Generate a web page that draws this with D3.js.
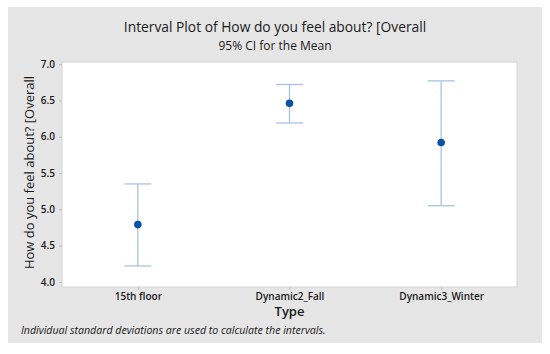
<!DOCTYPE html>
<html>
<head>
<meta charset="utf-8">
<script src="https://cdn.jsdelivr.net/npm/d3@7"></script>
<style>
  body { margin: 0; background: #fff; }
  text { font-family: "Open Sans", "Noto Sans", sans-serif; fill: #1a1a1a; }
</style>
</head>
<body>
<script>
// data
const types = ["15th floor", "Dynamic2_Fall", "Dynamic3_Winter"];
const means = [4.79, 6.46, 5.92];
const lower = [4.22, 6.19, 5.05];
const upper = [5.35, 6.72, 6.77];
const yTicks = [4.0, 4.5, 5.0, 5.5, 6.0, 6.5, 7.0];

const W = 550, H = 354;
const margin = { top: 62, right: 33, bottom: 67, left: 62 };
const width = W - margin.left - margin.right,
      height = H - margin.top - margin.bottom;

const svg = d3.select("body").append("svg")
  .attr("width", W)
  .attr("height", H);

// outer gray panel
svg.append("rect")
  .attr("x", 8).attr("y", 7)
  .attr("width", 534).attr("height", 336)
  .attr("fill", "#e6e6e6");

svg.append("text")
  .attr("x", 275).attr("y", 32)
  .attr("text-anchor", "middle")
  .style("font-size", "13.8px")
  .text("Interval Plot of How do you feel about? [Overall");

svg.append("text")
  .attr("x", 275).attr("y", 50)
  .attr("text-anchor", "middle")
  .style("font-size", "12px")
  .text("95% CI for the Mean");

const g = svg.append("g")
  .attr("transform", `translate(${margin.left},${margin.top})`);

g.append("rect")
  .attr("width", width).attr("height", height)
  .attr("fill", "#fff")
  .attr("stroke", "#d4d4d4");

const x = d3.scalePoint().domain(types).range([0, width]).padding(0.5);
const y = d3.scaleLinear().domain([3.93, 7.03]).range([height, 0]);

const yAxis = g.append("g")
  .call(d3.axisLeft(y).tickValues(yTicks).tickFormat(d3.format(".1f")).tickSize(3).tickPadding(4));
yAxis.select(".domain").remove();
yAxis.selectAll(".tick line").attr("stroke", "#bbb");
yAxis.selectAll("text").style("font-size", "10px").style("font-weight", 600).attr("fill", "#222");

const xAxis = g.append("g")
  .attr("transform", `translate(0,${height})`)
  .call(d3.axisBottom(x).tickSize(3).tickPadding(3));
xAxis.select(".domain").remove();
xAxis.selectAll(".tick line").attr("stroke", "#bbb");
xAxis.selectAll("text").style("font-size", "10px").style("font-weight", 600).attr("fill", "#222");

svg.append("text")
  .attr("x", margin.left + width / 2).attr("y", 316)
  .attr("text-anchor", "middle")
  .style("font-size", "13px").style("font-weight", 600)
  .text("Type");

svg.append("text")
  .attr("transform", `translate(34,${margin.top + height / 2 - 2}) rotate(-90)`)
  .attr("text-anchor", "middle")
  .style("font-size", "13px")
  .text("How do you feel about? [Overall");

svg.append("text")
  .attr("x", 21).attr("y", 334)
  .style("font-size", "10.6px").style("font-style", "italic")
  .text("Individual standard deviations are used to calculate the intervals.");

// intervals
const ivColor = "#a7c3e3";
const cap = 13.5;
const iv = g.selectAll(".iv").data(types).enter().append("g").attr("class", "iv");
iv.append("line")
  .attr("x1", d => x(d)).attr("x2", d => x(d))
  .attr("y1", (d, i) => y(lower[i])).attr("y2", (d, i) => y(upper[i]))
  .attr("stroke", ivColor).attr("stroke-width", 1.3);
iv.append("line")
  .attr("x1", d => x(d) - cap).attr("x2", d => x(d) + cap)
  .attr("y1", (d, i) => y(upper[i])).attr("y2", (d, i) => y(upper[i]))
  .attr("stroke", ivColor).attr("stroke-width", 1.3);
iv.append("line")
  .attr("x1", d => x(d) - cap).attr("x2", d => x(d) + cap)
  .attr("y1", (d, i) => y(lower[i])).attr("y2", (d, i) => y(lower[i]))
  .attr("stroke", ivColor).attr("stroke-width", 1.3);
iv.append("circle")
  .attr("cx", d => x(d))
  .attr("cy", (d, i) => y(means[i]))
  .attr("r", 3.8)
  .attr("fill", "#0a52a5");
</script>
</body>
</html>
